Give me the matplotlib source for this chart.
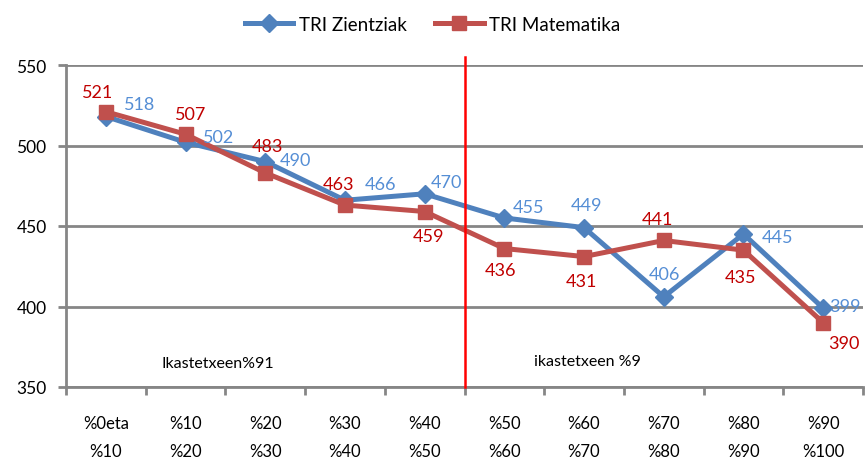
import matplotlib.pyplot as plt
import numpy as np

plt.rcParams['font.family'] = ['Lato', 'DejaVu Sans']

# --- DATUAK ---
categories = ["%0eta\n%10", "%10\n%20", "%20\n%30", "%30\n%40", "%40\n%50",
              "%50\n%60", "%60\n%70", "%70\n%80", "%80\n%90", "%90\n%100"]
zientziak = [518, 502, 490, 466, 470, 455, 449, 406, 445, 399]
matematika = [521, 507, 483, 463, 459, 436, 431, 441, 435, 390]

# etiketen desplazamendua (pixeletan)
z_off = [(34, 13), (33, 5), (30, 2), (36, 16), (22, 12), (24, 11), (2, 23), (1, 23), (34, -3), (22, 2)]
m_off = [(-8, 20), (5, 20), (2, 27), (-6, 21), (4, -24), (-4, -21), (-3, -24), (-6, 21), (-3, -27), (21, -20)]

BLUE = "#4F81BD"
RED = "#C0504D"
GRID = "#868686"

fig = plt.figure(figsize=(8.65, 4.6), dpi=100)
ax = fig.add_axes([66 / 865, 1 - 388 / 460, 797 / 865, 322 / 460])

x = np.arange(len(categories))
ax.plot(x, zientziak, color=BLUE, lw=3.6, marker="D", ms=9, label="TRI Zientziak", zorder=3)
ax.plot(x, matematika, color=RED, lw=3.6, marker="s", ms=10.5, label="TRI Matematika", zorder=4)

px = 0.72  # pixel -> point
for i in range(len(x)):
    ax.annotate(str(zientziak[i]), (x[i], zientziak[i]), xytext=(z_off[i][0] * px, z_off[i][1] * px),
                textcoords="offset points", ha="center", va="center", color="#558ED5", fontsize=13, zorder=6)
    ax.annotate(str(matematika[i]), (x[i], matematika[i]), xytext=(m_off[i][0] * px, m_off[i][1] * px),
                textcoords="offset points", ha="center", va="center", color="#C00000", fontsize=13, zorder=6)

# lerro gorria: %50 muga
ax.plot([4.5, 4.5], [350, 555], color="red", lw=1.8, clip_on=False, zorder=5)

ax.text(1.41, 365, "Ikastetxeen%91", ha="center", va="center", fontsize=11.5)
ax.text(6.04, 366, "ikastetxeen %9", ha="center", va="center", fontsize=11.5)

ax.set_xlim(-0.5, 9.5)
ax.set_ylim(350, 550)
ax.set_yticks([350, 400, 450, 500, 550])
ax.set_xticks(x)
ax.set_xticklabels(categories, fontsize=12, linespacing=1.95)
ax.set_xticks(np.arange(-0.5, 10, 1), minor=True)
ax.tick_params(axis="x", which="major", length=0, pad=20)
ax.tick_params(axis="x", which="minor", length=6, width=2, color=GRID, direction="out")
ax.tick_params(axis="y", length=6, width=2, color=GRID, labelsize=12.5, pad=8)

ax.yaxis.grid(True, color=GRID, lw=2)
ax.set_axisbelow(True)
for s in ["top", "right"]:
    ax.spines[s].set_visible(False)
for s in ["left", "bottom"]:
    ax.spines[s].set_color(GRID)
    ax.spines[s].set_linewidth(2)

fig.legend(loc="upper center", bbox_to_anchor=(0.5, 1.0), ncol=2, frameon=False, fontsize=13.5,
           handlelength=2.6, columnspacing=1.5, handletextpad=0.3)

fig.savefig("out.png", dpi=100)
